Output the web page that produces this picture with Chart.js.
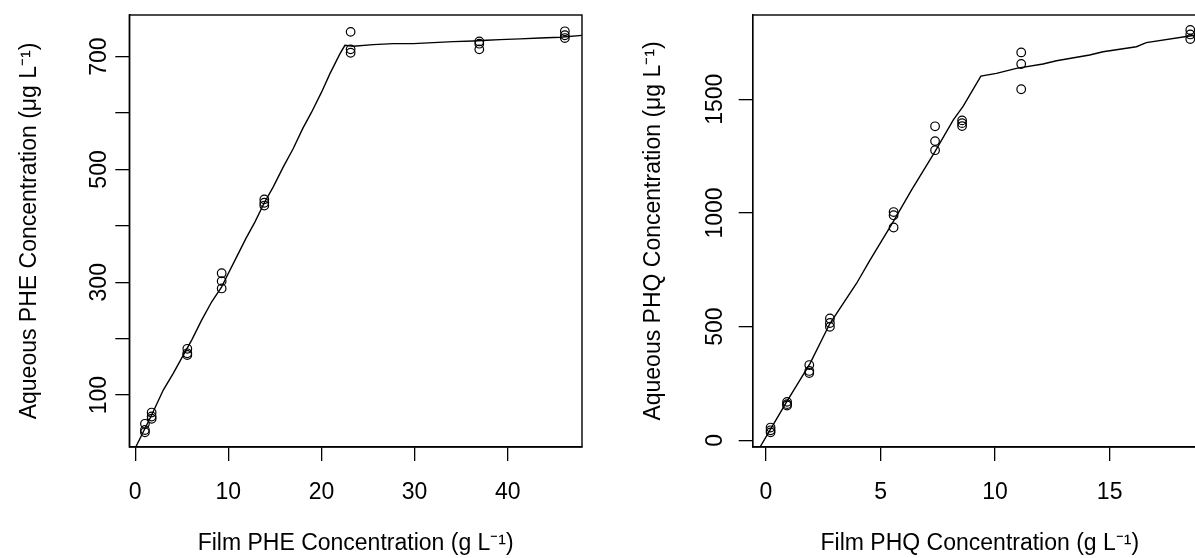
<!DOCTYPE html>
<html>
<head>
<meta charset="UTF-8">
<script src="https://cdn.jsdelivr.net/npm/chart.js@4"></script>
<style>
html, body { margin: 0; padding: 0; background: #fff; overflow: hidden; width: 1195px; height: 558px; }
canvas { position: absolute; top: 0; }
#phe { left: 0; }
#phq { left: 600px; }
</style>
</head>
<body>
<canvas id="phe" width="600" height="558"></canvas>
<canvas id="phq" width="630" height="558"></canvas>
<script>
// PHE panel: measured points (film g/L vs aqueous ug/L)
const pheFilm = [1.04, 1.04, 1.04, 1.76, 1.76, 1.76, 5.59, 5.59, 5.59, 9.28, 9.28, 9.28,
  13.86, 13.86, 13.86, 23.13, 23.13, 23.13, 36.95, 36.95, 36.95, 46.14, 46.14, 46.14];
const pheAqueous = [49, 38, 34, 69, 62, 58, 182, 174, 171, 316, 302, 289,
  447, 441, 436, 744, 713, 707, 727, 723, 713, 745, 738, 733];
// PHE model curve
const pheLineX = [-0.3, 0.07, 1.76, 3.01, 4.08, 5.16, 6.06, 7.13, 8.21, 9.28, 9.99, 10.89, 11.89, 12.86,
  13.82, 14.82, 15.9, 16.97, 17.98, 18.95, 20.02, 20.91, 21.99, 22.52, 23.42, 25.56, 27.71, 29.86,
  32.01, 34.16, 36.3, 37.74, 39.17, 41.32, 43.47, 45.62, 48.2];
const pheLineY = [-5, 8.4, 64.6, 108.9, 138.4, 170.9, 197.5, 232.9, 265.4, 291.9, 315.6, 345.1, 377.7, 407.1,
  439.7, 469.1, 504.6, 537.1, 572.5, 602, 637.5, 670, 705.4, 720.2, 718.5, 721.4, 723.2, 723.2,
  725, 726.7, 727.9, 729.1, 730.3, 731.5, 733.2, 734.4, 738];
const pheXTicks = [0, 10, 20, 30, 40];
const pheYTicks = [100, 200, 300, 400, 500, 600, 700];
const pheYLabels = [100, 300, 500, 700];

// PHQ panel
const phqFilm = [0.2, 0.2, 0.2, 0.92, 0.92, 0.92, 1.89, 1.89, 1.89, 2.79, 2.79, 2.79,
  5.57, 5.57, 5.57, 7.38, 7.38, 7.38, 8.56, 8.56, 8.56, 11.14, 11.14, 11.14, 18.52, 18.52, 18.52];
const phqAqueous = [56, 44, 35, 169, 159, 153, 331, 305, 296, 536, 516, 499,
  1004, 990, 936, 1381, 1316, 1276, 1407, 1395, 1382, 1706, 1655, 1544, 1805, 1785, 1765];
const phqLineX = [-0.26, 0.17, 0.9, 1.92, 2.79, 3.95, 4.54, 5.55, 6.35, 7.37, 8.17, 8.61, 9.38,
  10.06, 10.93, 12.09, 12.68, 14.13, 14.71, 16.17, 16.6, 18.49, 19.3];
const phqLineY = [-29.5, 44, 168.6, 337.5, 513.6, 689.7, 792.3, 961, 1100.4, 1269, 1408.5, 1470, 1602,
  1614, 1636, 1655, 1669.5, 1694.5, 1709, 1731, 1749, 1778, 1790];
const phqXTicks = [0, 5, 10, 15];
const phqYTicks = [0, 500, 1000, 1500];
const phqYLabels = [0, 500, 1000, 1500];

Chart.defaults.font.family = "'Liberation Sans', Arial, sans-serif";
Chart.defaults.font.size = 23;
Chart.defaults.color = '#000';

const boxPlugin = {
  id: 'box',
  afterDatasetsDraw(chart) {
    const a = chart.chartArea, ctx = chart.ctx;
    ctx.save();
    ctx.strokeStyle = '#000';
    ctx.lineWidth = 1.4;
    ctx.strokeRect(a.left, a.top, a.right - a.left, a.bottom - a.top);
    ctx.restore();
  }
};

function pairs(xs, ys) { return xs.map((x, i) => ({ x: x, y: ys[i] })); }

function makePanel(id, cfg) {
  return new Chart(document.getElementById(id), {
    type: 'scatter',
    data: {
      datasets: [
        { data: pairs(cfg.px, cfg.py), pointStyle: 'circle', pointRadius: 4.3, pointBorderWidth: 1.2,
          borderColor: '#000', backgroundColor: 'rgba(0,0,0,0)', pointHoverRadius: 4.3 },
        { type: 'line', data: pairs(cfg.lx, cfg.ly), borderColor: '#000', borderWidth: 1.4,
          pointRadius: 0, tension: 0, fill: false, clip: 0 }
      ]
    },
    options: {
      responsive: false,
      animation: false,
      devicePixelRatio: 1,
      layout: { padding: { top: 15, right: cfg.padRight, left: 0, bottom: 0 } },
      plugins: { legend: { display: false }, tooltip: { enabled: false } },
      scales: {
        x: {
          type: 'linear', min: cfg.xMin, max: cfg.xMax,
          afterBuildTicks: s => { s.ticks = cfg.xTicks.map(v => ({ value: v })); },
          afterFit: s => { s.height = 111; },
          grid: { drawOnChartArea: false, drawTicks: true, tickLength: 14, color: '#000', lineWidth: 1.3 },
          border: { display: true, color: '#000', width: 1.4 },
          ticks: { padding: 18, maxRotation: 0, autoSkip: false, callback: v => String(v) },
          title: { display: true, text: cfg.xTitle, padding: { top: 0, bottom: 1 } }
        },
        y: {
          type: 'linear', min: cfg.yMin, max: cfg.yMax,
          afterBuildTicks: s => { s.ticks = cfg.yTicks.map(v => ({ value: v })); },
          afterFit: s => { s.width = cfg.yWidth; },
          grid: { drawOnChartArea: false, drawTicks: true, tickLength: 14, color: '#000', lineWidth: 1.3 },
          border: { display: true, color: '#000', width: 1.4 },
          ticks: { padding: cfg.yPad, minRotation: 90, maxRotation: 90, crossAlign: 'center', autoSkip: false,
            callback: v => cfg.yLabels.includes(v) ? String(v) : '' },
          title: { display: true, text: cfg.yTitle, padding: { top: cfg.yTitlePad, bottom: 0 } }
        }
      }
    },
    plugins: [boxPlugin]
  });
}

makePanel('phe', {
  px: pheFilm, py: pheAqueous, lx: pheLineX, ly: pheLineY,
  xMin: -0.64, xMax: 47.98, yMin: 7.9, yMax: 773.9,
  xTicks: pheXTicks, yTicks: pheYTicks, yLabels: pheYLabels,
  yWidth: 129.3, padRight: 18, yPad: -4, yTitlePad: 16,
  xTitle: 'Film PHE Concentration (g L\u207B\u00B9)',
  yTitle: 'Aqueous PHE Concentration (\u03BCg L\u207B\u00B9)'
});

makePanel('phq', {
  px: phqFilm, py: phqAqueous, lx: phqLineX, ly: phqLineY,
  xMin: -0.58, xMax: 19.25, yMin: -29.5, yMax: 1870.6,
  xTicks: phqXTicks, yTicks: phqYTicks, yLabels: phqYLabels,
  yWidth: 152.7, padRight: 23, yPad: -3, yTitlePad: 40,
  xTitle: 'Film PHQ Concentration (g L\u207B\u00B9)',
  yTitle: 'Aqueous PHQ Concentration (\u03BCg L\u207B\u00B9)'
});
</script>
</body>
</html>
